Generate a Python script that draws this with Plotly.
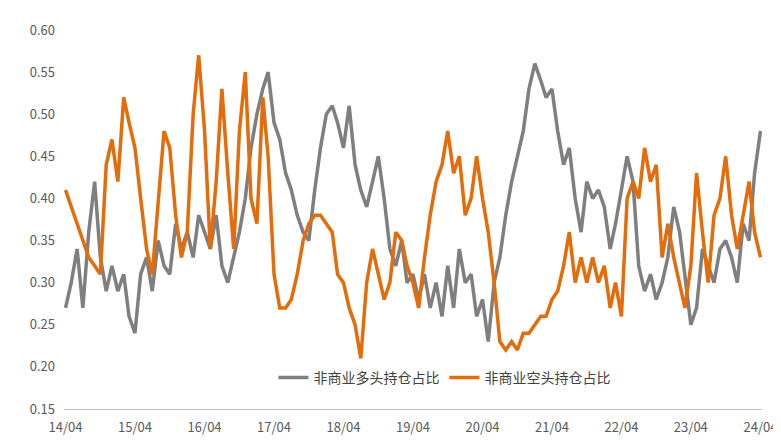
import pandas as pd
import plotly.graph_objs as go

# monthly readings, 2014/04 .. 2024/04
dates = pd.date_range("2014-04-01", "2024-04-01", freq="MS")

long_share = [0.27, 0.30, 0.34, 0.27, 0.36, 0.42, 0.33, 0.29, 0.32, 0.29, 0.31, 0.26, 0.24,
              0.31, 0.33, 0.29, 0.35, 0.32, 0.31, 0.37, 0.34, 0.36, 0.33, 0.38, 0.36,
              0.34, 0.38, 0.32, 0.30, 0.33, 0.36, 0.40, 0.46, 0.50, 0.53, 0.55, 0.49,
              0.47, 0.43, 0.41, 0.38, 0.36, 0.35, 0.41, 0.46, 0.50, 0.51, 0.49, 0.46,
              0.51, 0.44, 0.41, 0.39, 0.42, 0.45, 0.40, 0.34, 0.32, 0.35, 0.30, 0.31,
              0.28, 0.31, 0.27, 0.30, 0.26, 0.32, 0.27, 0.34, 0.30, 0.31, 0.26, 0.28,
              0.23, 0.30, 0.33, 0.38, 0.42, 0.45, 0.48, 0.53, 0.56, 0.54, 0.52, 0.53,
              0.48, 0.44, 0.46, 0.40, 0.36, 0.42, 0.40, 0.41, 0.39, 0.34, 0.37, 0.41,
              0.45, 0.42, 0.32, 0.29, 0.31, 0.28, 0.30, 0.33, 0.39, 0.36, 0.31, 0.25,
              0.27, 0.34, 0.32, 0.30, 0.34, 0.35, 0.33, 0.30, 0.37, 0.35, 0.43, 0.48]

short_share = [0.41, 0.39, 0.37, 0.35, 0.33, 0.32, 0.31, 0.44, 0.47, 0.42, 0.52, 0.49, 0.46,
               0.40, 0.34, 0.31, 0.40, 0.48, 0.46, 0.38, 0.33, 0.36, 0.50, 0.57, 0.48,
               0.34, 0.42, 0.53, 0.43, 0.34, 0.48, 0.55, 0.40, 0.37, 0.52, 0.45, 0.31,
               0.27, 0.27, 0.28, 0.31, 0.35, 0.37, 0.38, 0.38, 0.37, 0.36, 0.31, 0.30,
               0.27, 0.25, 0.21, 0.30, 0.34, 0.31, 0.28, 0.30, 0.36, 0.35, 0.32, 0.30,
               0.27, 0.33, 0.38, 0.42, 0.44, 0.48, 0.43, 0.45, 0.38, 0.40, 0.45, 0.40,
               0.36, 0.30, 0.23, 0.22, 0.23, 0.22, 0.24, 0.24, 0.25, 0.26, 0.26, 0.28,
               0.29, 0.32, 0.36, 0.30, 0.33, 0.30, 0.33, 0.30, 0.32, 0.27, 0.30, 0.26,
               0.40, 0.42, 0.40, 0.46, 0.42, 0.44, 0.33, 0.37, 0.33, 0.30, 0.27, 0.32,
               0.43, 0.36, 0.30, 0.38, 0.40, 0.45, 0.38, 0.34, 0.38, 0.42, 0.36, 0.33]

tick_dates = pd.date_range("2014-04-01", "2024-04-01", freq="12MS")
tick_labels = ["14/04", "15/04", "16/04", "17/04", "18/04", "19/04",
               "20/04", "21/04", "22/04", "23/04", "24/04"]

trace1 = go.Scatter(x=dates, y=long_share, mode="lines", name="非商业多头持仓占比",
                    line=dict(color="#7f7f7f", width=3.5))
trace2 = go.Scatter(x=dates, y=short_share, mode="lines", name="非商业空头持仓占比",
                    line=dict(color="#e46c0a", width=3.5))

layout = go.Layout(
    width=781, height=440,
    paper_bgcolor="white", plot_bgcolor="white",
    margin=dict(l=56, r=26, t=12, b=34),
    font=dict(family="Noto Sans CJK SC", size=13, color="#595959"),
    showlegend=True,
    legend=dict(orientation="h", x=0.30, y=0.04, xanchor="left", yanchor="bottom",
                font=dict(size=14, color="#404040"), bgcolor="rgba(0,0,0,0)"),
    xaxis=dict(tickvals=tick_dates, ticktext=tick_labels, showgrid=False,
               showline=True, linecolor="#bfbfbf", ticks="", ticklabelstandoff=6,
               range=[dates[0] - pd.Timedelta(days=8), dates[-1] + pd.Timedelta(days=8)]),
    yaxis=dict(range=[0.15, 0.60], dtick=0.05, tickformat=".2f", showgrid=False,
               zeroline=False, showline=False, ticklabelstandoff=8),
)

fig = go.Figure(data=[trace1, trace2], layout=layout)
fig.write_html("out.html")
